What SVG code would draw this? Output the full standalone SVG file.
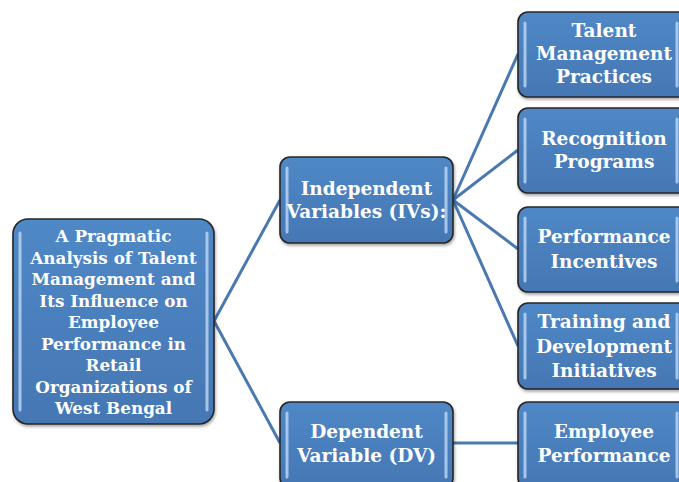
<svg xmlns="http://www.w3.org/2000/svg" width="679" height="482" viewBox="0 0 679 482">
<style>
.box{fill:url(#g);stroke:#262626;stroke-width:1.6;filter:url(#sh)}
.hl{stroke:#b7d2f2;stroke-width:3;stroke-linecap:round;opacity:0.85;fill:none}
.t{font-family:"DejaVu Serif",serif;font-weight:bold;fill:#ffffff;text-anchor:middle}
.r{font-size:16.8px}
.m{font-size:18.5px}
.c{stroke:#4a79b0;stroke-width:3;fill:none}
</style>
<defs>
<linearGradient id="g" x1="0" y1="0" x2="0" y2="1">
<stop offset="0" stop-color="#5088c6"/>
<stop offset="0.5" stop-color="#4a7fbd"/>
<stop offset="1" stop-color="#4477b3"/>
</linearGradient>
<filter id="sh" x="-10%" y="-10%" width="120%" height="130%">
<feDropShadow dx="1" dy="2" stdDeviation="1.5" flood-color="#000" flood-opacity="0.35"/>
</filter>
</defs>
<g id="connectors">
<line class="c" x1="214" y1="321" x2="280" y2="200"/>
<line class="c" x1="214" y1="321" x2="280" y2="443"/>
<line class="c" x1="453" y1="200" x2="518" y2="54"/>
<line class="c" x1="453" y1="200" x2="518" y2="150"/>
<line class="c" x1="453" y1="200" x2="518" y2="249"/>
<line class="c" x1="453" y1="200" x2="518" y2="346"/>
<line class="c" x1="453" y1="443" x2="518" y2="443"/>
</g>
<g id="root">
<rect class="box" x="13" y="219" width="201" height="205" rx="15"/>
<line class="hl" x1="20" y1="233" x2="20" y2="410"/>
<line class="hl" x1="207" y1="233" x2="207" y2="410"/>
<text class="t r" x="113.5" y="242">A Pragmatic</text>
<text class="t r" x="113.5" y="263.5">Analysis of Talent</text>
<text class="t r" x="113.5" y="285">Management and</text>
<text class="t r" x="113.5" y="306.5">Its Influence on</text>
<text class="t r" x="113.5" y="328">Employee</text>
<text class="t r" x="113.5" y="349.5">Performance in</text>
<text class="t r" x="113.5" y="371">Retail</text>
<text class="t r" x="113.5" y="392.5">Organizations of</text>
<text class="t r" x="113.5" y="414">West Bengal</text>
</g>
<g id="iv">
<rect class="box" x="280" y="157" width="173" height="86" rx="10"/>
<line class="hl" x1="287" y1="168" x2="287" y2="232"/>
<line class="hl" x1="446" y1="168" x2="446" y2="232"/>
<text class="t m" x="366.5" y="195">Independent</text>
<text class="t m" x="366.5" y="218">Variables (IVs):</text>
</g>
<g id="dv">
<rect class="box" x="280" y="402" width="173" height="86" rx="10"/>
<line class="hl" x1="287" y1="413" x2="287" y2="477"/>
<line class="hl" x1="446" y1="413" x2="446" y2="477"/>
<text class="t m" x="366.5" y="438">Dependent</text>
<text class="t m" x="366.5" y="462">Variable (DV)</text>
</g>
<g id="tmp">
<rect class="box" x="518" y="12" width="173" height="85" rx="10"/>
<line class="hl" x1="525" y1="23" x2="525" y2="86"/>
<line class="hl" x1="677" y1="23" x2="677" y2="86"/>
<text class="t m" x="604" y="37">Talent</text>
<text class="t m" x="604" y="60">Management</text>
<text class="t m" x="604" y="83">Practices</text>
</g>
<g id="rp">
<rect class="box" x="518" y="108" width="173" height="85" rx="10"/>
<line class="hl" x1="525" y1="119" x2="525" y2="182"/>
<line class="hl" x1="677" y1="119" x2="677" y2="182"/>
<text class="t m" x="604" y="145">Recognition</text>
<text class="t m" x="604" y="168">Programs</text>
</g>
<g id="pi">
<rect class="box" x="518" y="207" width="173" height="85" rx="10"/>
<line class="hl" x1="525" y1="218" x2="525" y2="281"/>
<line class="hl" x1="677" y1="218" x2="677" y2="281"/>
<text class="t m" x="604" y="243">Performance</text>
<text class="t m" x="604" y="268">Incentives</text>
</g>
<g id="tdi">
<rect class="box" x="518" y="303" width="173" height="86" rx="10"/>
<line class="hl" x1="525" y1="314" x2="525" y2="378"/>
<line class="hl" x1="677" y1="314" x2="677" y2="378"/>
<text class="t m" x="604" y="328">Training and</text>
<text class="t m" x="604" y="353">Development</text>
<text class="t m" x="604" y="377">Initiatives</text>
</g>
<g id="ep">
<rect class="box" x="518" y="402" width="173" height="86" rx="10"/>
<line class="hl" x1="525" y1="413" x2="525" y2="477"/>
<line class="hl" x1="677" y1="413" x2="677" y2="477"/>
<text class="t m" x="604" y="438">Employee</text>
<text class="t m" x="604" y="462">Performance</text>
</g>
</svg>
